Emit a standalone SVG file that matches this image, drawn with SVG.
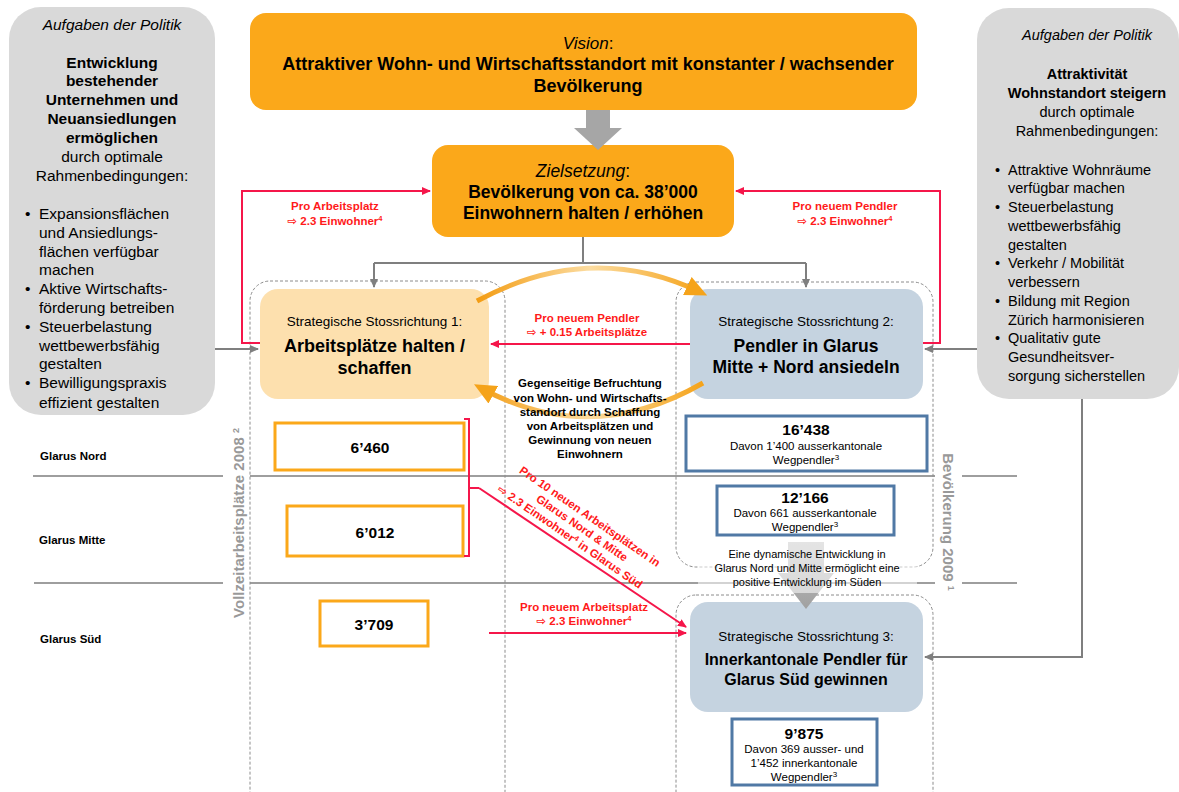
<svg xmlns="http://www.w3.org/2000/svg" width="1179" height="792" viewBox="0 0 1179 792">
<style>
text{font-family:"Liberation Sans",Arial,"DejaVu Sans",sans-serif;fill:#000}
.c{text-anchor:middle}
.b{font-weight:bold}
.i{font-style:italic}
.pol{font-size:15.5px}
.polr{font-size:14.5px}
.red{fill:#ff1a1a;font-weight:bold;font-size:11.5px;text-anchor:middle}
.sep{stroke:#7f7f7f;stroke-width:1.3;fill:none}
.dash{fill:none;stroke:#8c8c8c;stroke-width:1;stroke-dasharray:3 2}
.gl{fill:none;stroke:#7f7f7f;stroke-width:2}
.rl{fill:none;stroke:#f5164a;stroke-width:2}
.ob{fill:#fff;stroke:#fba81a;stroke-width:3}
.bb{fill:#fff;stroke:#5079a5;stroke-width:3}
.num{font-size:15.5px;font-weight:bold;text-anchor:middle}
.sub{font-size:11.5px;text-anchor:middle}
.sr{font-size:13.5px;text-anchor:middle}
.vert{font-size:15px;font-weight:bold;fill:#999;text-anchor:middle}
.row{font-size:11.5px;font-weight:bold}
</style>
<defs>
<marker id="ag" markerUnits="userSpaceOnUse" markerWidth="9" markerHeight="9" refX="8" refY="4.5" orient="auto"><path d="M0,0.5 L9,4.5 L0,8.5 z" fill="#7f7f7f"/></marker>
<marker id="ar" markerUnits="userSpaceOnUse" markerWidth="9" markerHeight="9" refX="8" refY="4.5" orient="auto"><path d="M0,0.5 L9,4.5 L0,8.5 z" fill="#f5164a"/></marker>
<marker id="ao" markerUnits="userSpaceOnUse" markerWidth="22" markerHeight="20" refX="14" refY="10" orient="auto"><path d="M0,0 L22,10 L0,20 z" fill="#f5a31a"/></marker>
<linearGradient id="go" gradientUnits="userSpaceOnUse" x1="477" y1="0" x2="703" y2="0">
<stop offset="0" stop-color="#f39c12"/><stop offset="0.5" stop-color="#fcdca0"/><stop offset="1" stop-color="#f5a31a"/>
</linearGradient>
<linearGradient id="gd" x1="0" y1="0" x2="0" y2="1">
<stop offset="0" stop-color="#c4c4c4"/><stop offset="1" stop-color="#a0a0a0"/>
</linearGradient>
</defs>

<!-- row separators -->
<g id="separators">
<path class="sep" d="M33,476 H223 M250,476 H935 M962,476 H1017"/>
<path class="sep" d="M34,583 H223 M250,583 H935 M962,583 H1017"/>
</g>

<!-- dashed containers -->
<g id="containers">
<rect class="dash" x="250" y="281" width="255" height="530" rx="20"/>
<rect class="dash" x="676" y="282" width="257" height="285" rx="20"/>
<rect class="dash" x="676" y="595" width="257" height="220" rx="20"/>
</g>

<!-- row labels -->
<g id="rows">
<text class="row" x="40" y="460">Glarus Nord</text>
<text class="row" x="39" y="544">Glarus Mitte</text>
<text class="row" x="40" y="643">Glarus Süd</text>
<text class="vert" transform="translate(243.5,523) rotate(-90)">Vollzeitarbeitsplätze 2008 <tspan font-size="9" baseline-shift="super">2</tspan></text>
<text class="vert" transform="translate(942.5,522) rotate(90)">Bevölkerung 2009 <tspan font-size="9" baseline-shift="super">1</tspan></text>
</g>

<!-- policy left -->
<g id="policy-left">
<rect x="9" y="7" width="206" height="408" rx="32" fill="#d9d9d9"/>
<text class="pol i c" x="112" y="30">Aufgaben der Politik</text>
<text class="pol b c" x="112" y="67.5">Entwicklung</text>
<text class="pol b c" x="112" y="86">bestehender</text>
<text class="pol b c" x="112" y="104.5">Unternehmen und</text>
<text class="pol b c" x="112" y="123.5">Neuansiedlungen</text>
<text class="pol b c" x="112" y="142.5">ermöglichen</text>
<text class="pol c" x="112" y="161.5">durch optimale</text>
<text class="pol c" x="112" y="180.5">Rahmenbedingungen:</text>
<text class="pol" x="25" y="218.5">•</text>
<text class="pol" x="39" y="218.5">Expansionsflächen</text>
<text class="pol" x="39" y="237.5">und Ansiedlungs-</text>
<text class="pol" x="39" y="256.5">flächen verfügbar</text>
<text class="pol" x="39" y="274.5">machen</text>
<text class="pol" x="25" y="293.5">•</text>
<text class="pol" x="39" y="293.5">Aktive Wirtschafts-</text>
<text class="pol" x="39" y="312.5">förderung betreiben</text>
<text class="pol" x="25" y="331.5">•</text>
<text class="pol" x="39" y="331.5">Steuerbelastung</text>
<text class="pol" x="39" y="350.5">wettbewerbsfähig</text>
<text class="pol" x="39" y="368.5">gestalten</text>
<text class="pol" x="25" y="387.5">•</text>
<text class="pol" x="39" y="387.5">Bewilligungspraxis</text>
<text class="pol" x="39" y="407.5">effizient gestalten</text>
</g>

<!-- policy right -->
<g id="policy-right">
<rect x="977" y="8" width="202" height="391" rx="32" fill="#d9d9d9"/>
<text class="polr i c" x="1087" y="40">Aufgaben der Politik</text>
<text class="polr b c" x="1087" y="79">Attraktivität</text>
<text class="polr b c" x="1087" y="98">Wohnstandort steigern</text>
<text class="polr c" x="1087" y="117">durch optimale</text>
<text class="polr c" x="1087" y="136">Rahmenbedingungen:</text>
<text class="polr" x="995" y="175">•</text>
<text class="polr" x="1008" y="175">Attraktive Wohnräume</text>
<text class="polr" x="1008" y="193">verfügbar machen</text>
<text class="polr" x="995" y="212">•</text>
<text class="polr" x="1008" y="212">Steuerbelastung</text>
<text class="polr" x="1008" y="231">wettbewerbsfähig</text>
<text class="polr" x="1008" y="250">gestalten</text>
<text class="polr" x="995" y="268">•</text>
<text class="polr" x="1008" y="268">Verkehr / Mobilität</text>
<text class="polr" x="1008" y="287">verbessern</text>
<text class="polr" x="995" y="306">•</text>
<text class="polr" x="1008" y="306">Bildung mit Region</text>
<text class="polr" x="1008" y="325">Zürich harmonisieren</text>
<text class="polr" x="995" y="343">•</text>
<text class="polr" x="1008" y="343">Qualitativ gute</text>
<text class="polr" x="1008" y="362">Gesundheitsver-</text>
<text class="polr" x="1008" y="381">sorgung sicherstellen</text>
</g>

<!-- vision -->
<g id="vision">
<rect x="250" y="13" width="667" height="97" rx="16" fill="#fba81a"/>
<text class="c" x="588" y="49" font-size="17"><tspan font-style="italic">Vision</tspan>:</text>
<text class="c b" x="588" y="69.5" font-size="18">Attraktiver Wohn- und Wirtschaftsstandort mit konstanter / wachsender</text>
<text class="c b" x="588" y="91.5" font-size="18">Bevölkerung</text>
</g>

<!-- zielsetzung -->
<g id="ziel">
<rect x="432" y="145" width="302" height="92" rx="16" fill="#fba81a"/>
<text class="c" x="583" y="177" font-size="17.5"><tspan font-style="italic">Zielsetzung</tspan>:</text>
<text class="c b" x="583" y="198" font-size="17.5">Bevölkerung von ca. 38’000</text>
<text class="c b" x="583" y="219" font-size="17.5">Einwohnern halten / erhöhen</text>
</g>

<!-- SR1 -->
<g id="sr1">
<rect x="260" y="289" width="229" height="110" rx="18" fill="#fde0ae"/>
<text class="sr" x="374.5" y="326">Strategische Stossrichtung 1:</text>
<text class="c b" x="374.5" y="351.5" font-size="18">Arbeitsplätze halten /</text>
<text class="c b" x="374.5" y="373.5" font-size="18">schaffen</text>
</g>

<!-- SR2 -->
<g id="sr2">
<rect x="690" y="289" width="233" height="110" rx="18" fill="#c5d3e0"/>
<text class="sr" x="806" y="326">Strategische Stossrichtung 2:</text>
<text class="c b" x="806" y="352" font-size="17.5">Pendler in Glarus</text>
<text class="c b" x="806" y="373" font-size="17.5">Mitte + Nord ansiedeln</text>
</g>

<!-- SR3 -->
<g id="sr3">
<rect x="690" y="602" width="233" height="110" rx="18" fill="#c5d3e0"/>
<text class="sr" x="806" y="641">Strategische Stossrichtung 3:</text>
<text class="c b" x="806" y="665" font-size="16">Innerkantonale Pendler für</text>
<text class="c b" x="806" y="684.5" font-size="16">Glarus Süd gewinnen</text>
</g>

<!-- number boxes -->
<g id="n6460"><rect class="ob" x="275" y="423" width="189" height="47"/><text class="num" x="370" y="452.5">6’460</text></g>
<g id="n6012"><rect class="ob" x="287" y="506" width="176" height="50"/><text class="num" x="375" y="537.5">6’012</text></g>
<g id="n3709"><rect class="ob" x="320" y="601" width="108" height="45"/><text class="num" x="374" y="629.5">3’709</text></g>

<g id="n16438"><rect class="bb" x="686" y="416" width="241" height="55"/>
<text class="num" x="806" y="434.5">16’438</text>
<text class="sub" x="806" y="450">Davon 1’400 ausserkantonale</text>
<text class="sub" x="806" y="464">Wegpendler<tspan font-size="8" baseline-shift="super">3</tspan></text>
</g>
<g id="n12166"><rect class="bb" x="717" y="486" width="177" height="49"/>
<text class="num" x="805" y="502.5">12’166</text>
<text class="sub" x="805" y="517">Davon 661 ausserkantonale</text>
<text class="sub" x="805" y="531">Wegpendler<tspan font-size="8" baseline-shift="super">3</tspan></text>
</g>
<g id="n9875"><rect class="bb" x="732" y="719" width="145" height="66"/>
<text class="num" x="804" y="738.5">9’875</text>
<text class="sub" x="804" y="753">Davon 369 ausser- und</text>
<text class="sub" x="804" y="767">1’452 innerkantonale</text>
<text class="sub" x="804" y="781">Wegpendler<tspan font-size="8" baseline-shift="super">3</tspan></text>
</g>

<!-- connectors -->
<g id="connectors">
<path d="M586,110 H610 V128 H622 L598,150 L574,128 H586 Z" fill="#a6a6a6"/>
<path class="gl" d="M583,237 V263 M374,263 H806" />
<path class="gl" d="M374,263 V287" marker-end="url(#ag)"/>
<path class="gl" d="M806,263 V287" marker-end="url(#ag)"/>
<path class="gl" d="M215,349 H258" marker-end="url(#ag)"/>
<path class="gl" d="M977,349 H925" marker-end="url(#ag)"/>
<path class="gl" d="M1082,399 V657 H925" marker-end="url(#ag)"/>
<path class="rl" d="M260,343 H242 V191 H430" marker-end="url(#ar)"/>
<path class="rl" d="M923,343 H940 V191 H736" marker-end="url(#ar)"/>
<path class="rl" d="M690,344 H491" marker-end="url(#ar)"/>
<path class="rl" d="M464,419 H469 V556 H464 M469,488 H479" />
<path class="rl" d="M479,488 L686,627" marker-end="url(#ar)"/>
<path class="rl" d="M489,633 H686" marker-end="url(#ar)"/>
<path d="M477,301 Q590,240 700,292" fill="none" stroke="url(#go)" stroke-width="5" marker-end="url(#ao)"/>
<path d="M703,383 Q590,448 481,388" fill="none" stroke="url(#go)" stroke-width="5" marker-end="url(#ao)"/>
<path d="M788,542 H824 V573 H834 L806,609 L778,573 H788 Z" fill="url(#gd)"/>
</g>

<!-- labels -->
<g id="labels">
<text class="red" x="335" y="210">Pro Arbeitsplatz</text>
<text class="red" x="335" y="225">⇨ 2.3 Einwohner<tspan font-size="7.5" baseline-shift="super">4</tspan></text>
<text class="red" x="845" y="210">Pro neuem Pendler</text>
<text class="red" x="845" y="225">⇨ 2.3 Einwohner<tspan font-size="7.5" baseline-shift="super">4</tspan></text>
<text class="red" x="587" y="322">Pro neuem Pendler</text>
<text class="red" x="587" y="336">⇨ + 0.15 Arbeitsplätze</text>
<text class="red" x="584" y="611">Pro neuem Arbeitsplatz</text>
<text class="red" x="584" y="625">⇨ 2.3 Einwohner<tspan font-size="7.5" baseline-shift="super">4</tspan></text>
<g transform="translate(582,528) rotate(34.5)">
<text class="red" x="0" y="-10">Pro 10 neuen Arbeitsplätzen in</text>
<text class="red" x="0" y="4">Glarus Nord &amp; Mitte</text>
<text class="red" x="-5" y="18">⇨ 2.3 Einwohner<tspan font-size="7.5" baseline-shift="super">4</tspan> in Glarus Süd</text>
</g>
<text class="c b" x="590" y="387" font-size="11.5">Gegenseitige Befruchtung</text>
<text class="c b" x="590" y="401.5" font-size="11.5">von Wohn- und Wirtschafts-</text>
<text class="c b" x="590" y="416" font-size="11.5">standort durch Schaffung</text>
<text class="c b" x="590" y="430" font-size="11.5">von Arbeitsplätzen und</text>
<text class="c b" x="590" y="444" font-size="11.5">Gewinnung von neuen</text>
<text class="c b" x="590" y="457.5" font-size="11.5">Einwohnern</text>
<rect x="698" y="542" width="219" height="51" fill="#fff" fill-opacity="0.55"/>
<text class="c" x="807" y="558" font-size="11">Eine dynamische Entwicklung in</text>
<text class="c" x="807" y="572" font-size="11">Glarus Nord und Mitte ermöglicht eine</text>
<text class="c" x="807" y="586" font-size="11">positive Entwicklung im Süden</text>
</g>
</svg>
